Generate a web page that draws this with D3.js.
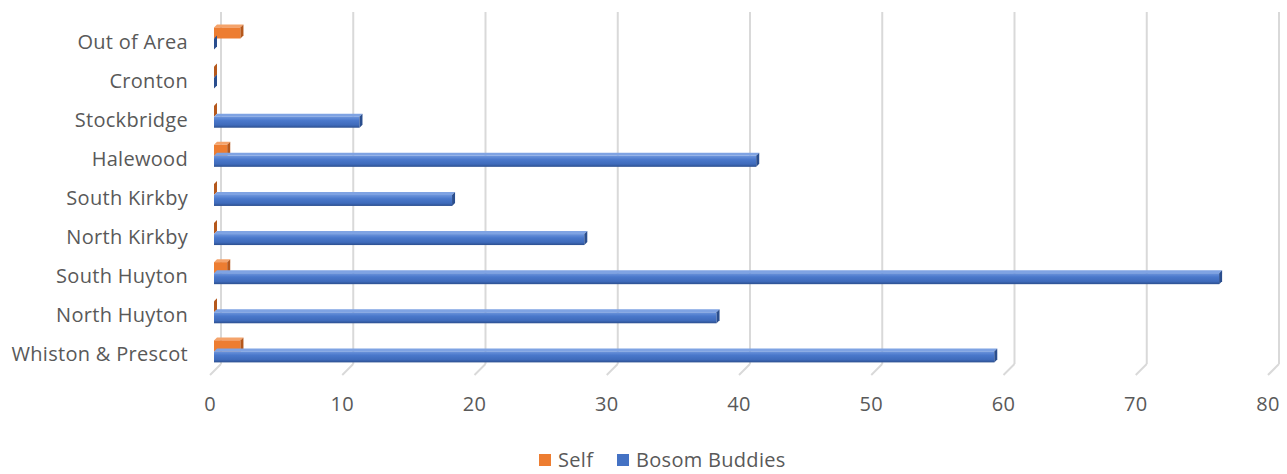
<!DOCTYPE html>
<html>
<head>
<meta charset="utf-8">
<script src="https://cdn.jsdelivr.net/npm/d3@7"></script>
<style>
  body { margin: 0; background: #fff; }
  svg { display: block; font-family: "Open Sans", sans-serif; }
  .lbl { fill: #595959; font-size: 20px; letter-spacing: 0.3px; }
</style>
</head>
<body>
<div id="chart"></div>
<script>
// categories listed top to bottom as drawn
const categories = ['Out of Area', 'Cronton', 'Stockbridge', 'Halewood', 'South Kirkby',
  'North Kirkby', 'South Huyton', 'North Huyton', 'Whiston & Prescot'];
const series = ['Self', 'Bosom Buddies'];
const selfValues = [2, 0, 0, 1, 0, 0, 1, 0, 2];
const bosomValues = [0, 0, 11, 41, 18, 28, 76, 38, 59];
const xTicks = [0, 10, 20, 30, 40, 50, 60, 70, 80];

const width = 1287, height = 474;

const svg = d3.select('#chart').append('svg')
  .attr('width', width)
  .attr('height', height);

// front plane (labels) scale; bars and back wall are shifted by a 3D depth
const x = d3.scaleLinear().domain([0, 80]).range([210, 1268]);
const y = d3.scaleBand().domain(categories).range([22, 374]);
const inner = d3.scaleBand().domain(series).range([5.5, 27.5]);

const wallDx = 11, wallDy = -11;  // back wall offset
const barDx = 4;                  // bars sit a bit behind the front
const d = 3;                      // bar depth
const floorY = 375, topY = 12;

const colors = {
  'Self': { front: '#ed7d31', top: '#f4a36b', side: '#b5581c', grad: null },
  'Bosom Buddies': { front: '#4472c4', top: '#7fa3e3', side: '#2a4e8e', grad: 'gradBlue' }
};

const defs = svg.append('defs');
const gb = defs.append('linearGradient').attr('id', 'gradBlue')
  .attr('x1', 0).attr('y1', 0).attr('x2', 0).attr('y2', 1);
gb.append('stop').attr('offset', '0%').attr('stop-color', '#6d95dc');
gb.append('stop').attr('offset', '35%').attr('stop-color', '#4a78cb');
gb.append('stop').attr('offset', '75%').attr('stop-color', '#3f6bbb');
gb.append('stop').attr('offset', '100%').attr('stop-color', '#2c4f8f');

// gridlines on back wall plus floor diagonals
const grid = svg.append('g');
xTicks.forEach(t => {
  const gx = x(t) + wallDx;
  grid.append('line')
    .attr('x1', gx).attr('x2', gx)
    .attr('y1', topY).attr('y2', floorY + wallDy)
    .attr('stroke', '#d9d9d9').attr('stroke-width', 2);
  grid.append('line')
    .attr('x1', gx).attr('x2', x(t))
    .attr('y1', floorY + wallDy).attr('y2', floorY)
    .attr('stroke', '#d9d9d9').attr('stroke-width', 2);
});

// bars
const rows = categories.map((c, i) => ({ cat: c, vals: [selfValues[i], bosomValues[i]] }));
const bars = svg.append('g');
rows.forEach(r => {
  series.forEach((s, si) => {
    const v = r.vals[si];
    const col = colors[s];
    const x0 = x(0) + barDx, x1 = x(v) + barDx;
    const y0 = y(r.cat) + inner(s), h = inner.bandwidth();
    const g = bars.append('g');
    // top face
    g.append('path')
      .attr('d', `M${x0},${y0}L${x1},${y0}L${x1 + d},${y0 - d}L${x0 + d},${y0 - d}Z`)
      .attr('fill', col.top);
    // front face
    g.append('rect')
      .attr('x', x0).attr('y', y0)
      .attr('width', Math.max(0, x1 - x0)).attr('height', h)
      .attr('fill', col.grad ? `url(#${col.grad})` : col.front);
    // right side
    g.append('path')
      .attr('d', `M${x1},${y0}L${x1 + d},${y0 - d}L${x1 + d},${y0 + h - d}L${x1},${y0 + h}Z`)
      .attr('fill', col.side);
  });
});

// category labels
svg.append('g').selectAll('text')
  .data(categories)
  .enter().append('text')
  .attr('class', 'lbl')
  .attr('x', 188)
  .attr('y', c => y(c) + y.bandwidth() / 2)
  .attr('dy', '0.35em')
  .attr('text-anchor', 'end')
  .text(c => c);

// x tick labels
svg.append('g').selectAll('text')
  .data(xTicks)
  .enter().append('text')
  .attr('class', 'lbl')
  .attr('x', t => x(t))
  .attr('y', 411)
  .attr('text-anchor', 'middle')
  .text(t => t);

// legend
const legendItems = [
  { key: 'Self', sx: 539, tx: 558 },
  { key: 'Bosom Buddies', sx: 617, tx: 636 }
];
const legend = svg.append('g');
legendItems.forEach(it => {
  legend.append('rect')
    .attr('x', it.sx).attr('y', 454)
    .attr('width', 12).attr('height', 12)
    .attr('fill', colors[it.key].front);
  legend.append('text')
    .attr('class', 'lbl')
    .attr('x', it.tx).attr('y', 467)
    .text(it.key);
});
</script>
</body>
</html>
